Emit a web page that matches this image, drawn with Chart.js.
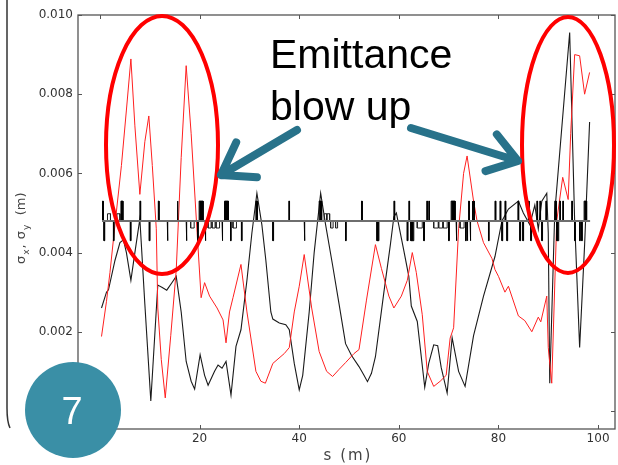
<!DOCTYPE html>
<html>
<head>
<meta charset="utf-8">
<script src="https://cdn.jsdelivr.net/npm/chart.js@4.4.1/dist/chart.umd.min.js"></script>
<style>
    body { margin: 0; background: #ffffff; }
    #wrap { width: 618px; height: 465px; }
</style>
</head>
<body>
<div id="wrap"><canvas id="beamChart" width="618" height="465"></canvas></div>
<script>
// beam size along the line, black trace
const sxS   = [0.3, 1.3, 1.7, 3.0, 4.0, 4.7, 5.3, 6.2, 7.0, 8.0, 9.0, 10.2, 11.6, 12.5, 13.4, 14.5, 15.3, 16.3, 17.3, 18.3, 19.0, 20.1, 21.0, 21.7, 23.0, 23.7, 24.5, 25.3, 26.3, 27.3, 28.3, 29.5, 30.5, 31.5, 32.5, 33.3, 34.3, 34.7, 36.0, 37.3, 38.0, 39.0, 40.0, 40.7, 42.0, 43.0, 44.3, 45.3, 46.7, 48.0, 49.3, 50.5, 52.0, 53.0, 53.7, 54.5, 55.3, 57.0, 58.3, 59.0, 59.5, 61.0, 62.0, 62.5, 63.7, 65.2, 66.0, 67.0, 67.8, 68.5, 69.7, 70.7, 72.0, 73.3, 75.0, 77.0, 79.3, 80.7, 82.0, 84.0, 85.0, 86.3, 87.3, 88.0, 88.7, 89.7, 90.0, 90.3, 91.3, 94.3, 95.3, 96.3, 97.3, 98.3]
const sxVal = [0.00260, 0.00300, 0.00306, 0.00380, 0.00425, 0.00432, 0.00400, 0.00330, 0.00400, 0.00485, 0.00270, 0.00025, 0.00318, 0.00312, 0.00305, 0.00325, 0.00340, 0.00250, 0.00125, 0.00075, 0.00055, 0.00142, 0.00090, 0.00065, 0.00100, 0.00116, 0.00108, 0.00125, 0.00040, 0.00163, 0.00205, 0.00330, 0.00450, 0.00550, 0.00470, 0.00380, 0.00250, 0.00232, 0.00222, 0.00218, 0.00205, 0.00120, 0.00053, 0.00090, 0.00250, 0.00400, 0.00550, 0.00470, 0.00368, 0.00270, 0.00170, 0.00140, 0.00112, 0.00090, 0.00074, 0.00095, 0.00137, 0.00300, 0.00420, 0.00490, 0.00500, 0.00405, 0.00340, 0.00265, 0.00226, 0.00060, 0.00120, 0.00167, 0.00165, 0.00110, 0.00045, 0.00185, 0.00100, 0.00062, 0.00190, 0.00290, 0.00390, 0.00480, 0.00510, 0.00530, 0.00500, 0.00470, 0.00520, 0.00460, 0.00530, 0.00550, 0.00450, 0.00070, 0.00500, 0.00956, 0.00480, 0.00160, 0.00420, 0.00730]

// red trace
const syS   = [0.3, 1.3, 2.0, 3.0, 4.3, 5.3, 6.2, 7.0, 8.0, 9.0, 9.8, 10.5, 11.3, 11.6, 12.3, 13.1, 14.2, 15.3, 16.3, 17.3, 18.3, 19.5, 20.3, 21.0, 22.0, 23.5, 24.7, 25.3, 26.0, 26.7, 28.3, 29.5, 31.3, 32.3, 33.2, 34.7, 37.0, 38.0, 39.0, 40.0, 41.0, 42.5, 44.0, 45.5, 46.7, 48.0, 49.3, 51.0, 52.0, 53.5, 55.3, 56.5, 58.0, 59.0, 60.5, 61.7, 62.7, 63.5, 64.7, 65.7, 67.0, 68.3, 69.5, 70.3, 71.0, 72.0, 73.0, 73.7, 75.0, 75.7, 77.0, 78.7, 79.3, 80.0, 81.3, 82.0, 84.0, 85.3, 86.7, 88.0, 88.5, 89.7, 90.0, 90.7, 91.7, 92.9, 94.0, 94.5, 95.3, 96.3, 97.3, 98.3]
const syVal = [0.00188, 0.00277, 0.00350, 0.00470, 0.00620, 0.00760, 0.00889, 0.00720, 0.00547, 0.00680, 0.00745, 0.00620, 0.00460, 0.00260, 0.00130, 0.00033, 0.00190, 0.00355, 0.00640, 0.00872, 0.00700, 0.00450, 0.00286, 0.00324, 0.00290, 0.00260, 0.00230, 0.00172, 0.00250, 0.00286, 0.00370, 0.00250, 0.00100, 0.00075, 0.00070, 0.00120, 0.00145, 0.00160, 0.00250, 0.00315, 0.00395, 0.00260, 0.00150, 0.00100, 0.00087, 0.00105, 0.00122, 0.00145, 0.00155, 0.00280, 0.00420, 0.00360, 0.00290, 0.00260, 0.00290, 0.00330, 0.00400, 0.00350, 0.00243, 0.00100, 0.00062, 0.00075, 0.00090, 0.00184, 0.00210, 0.00460, 0.00600, 0.00644, 0.00530, 0.00480, 0.00425, 0.00385, 0.00357, 0.00340, 0.00300, 0.00315, 0.00240, 0.00228, 0.00200, 0.00237, 0.00225, 0.00290, 0.00160, 0.00070, 0.00480, 0.00590, 0.00534, 0.00700, 0.00900, 0.00897, 0.00800, 0.00855]

// lattice: quadrupoles (start, length, +1 focusing / -1 defocusing)
const quadS = [0.5, 0.8, 2.7, 4.2, 6.1, 8.0, 9.9, 11.7, 13.5, 15.5, 17.3, 19.6, 19.9, 21.1, 24.5, 25.0, 26.2, 28.4, 31.3, 34.7, 37.9, 41.0, 44.0, 49.3, 52.5, 55.6, 59.0, 61.7, 62.0, 62.4, 65.0, 65.6, 66.0, 70.0, 70.5, 71.5, 73.4, 73.7, 74.0, 74.3, 74.7, 75.0, 78.0, 79.3, 80.3, 80.7, 81.3, 81.7, 83.9, 84.3, 84.9, 86.0, 86.5, 87.7, 88.3, 88.7, 89.5, 91.3, 91.7, 92.3, 92.9, 94.7, 95.3, 96.3, 96.7, 97.2]
const quadL = [0.15, 0.15, 0.15, 0.4, 0.15, 0.15, 0.15, 0.15, 0.15, 0.15, 0.15, 0.15, 0.8, 0.15, 0.15, 0.8, 0.15, 0.15, 0.3, 0.15, 0.15, 0.15, 0.5, 0.15, 0.15, 0.4, 0.15, 0.15, 0.15, 0.6, 0.15, 0.15, 0.15, 0.15, 0.8, 0.15, 0.15, 0.15, 0.15, 0.15, 0.15, 0.15, 0.15, 0.15, 0.15, 0.15, 0.15, 0.15, 0.15, 0.15, 0.15, 0.15, 0.15, 0.15, 0.15, 0.15, 0.15, 0.3, 0.4, 0.15, 0.15, 0.15, 0.15, 0.15, 0.15, 0.5]
const quadK = [1, -1, -1, 1, -1, 1, -1, 1, -1, 1, -1, -1, 1, -1, -1, 1, -1, -1, 1, -1, 1, -1, 1, -1, 1, -1, 1, -1, 1, -1, -1, 1, 1, -1, 1, -1, -1, -1, 1, -1, 1, 1, -1, 1, 1, -1, 1, -1, 1, -1, -1, 1, -1, 1, 1, -1, 1, 1, -1, 1, 1, 1, -1, -1, -1, 1]

// lattice: bends and correctors (start, length, side)
const bendS = [1.5, 3.4, 18.2, 21.7, 22.5, 23.3, 26.7, 45.0, 45.6, 46.3, 47.3, 63.7, 67.0, 68.0, 68.9, 72.3]
const bendL = [0.6, 0.6, 0.7, 0.6, 0.6, 0.7, 0.7, 0.5, 0.5, 0.5, 0.4, 1.0, 0.9, 0.8, 0.8, 0.8]
const bendK = [1, 1, -1, -1, -1, -1, -1, 1, 1, -1, -1, -1, -1, -1, -1, -1]

const latticeLevel = 0.0048
const quadHeight = 0.0005
const bendHeight = 0.00018
const latticeStart = 0.4
const latticeEnd = 98.4

const xTicks = [0, 20, 40, 60, 80, 100]
const yTicks = [0, 0.002, 0.004, 0.006, 0.008, 0.010]

function toPoints(xs, ys) {
    return xs.map((s, i) => ({x: s, y: ys[i]}))
}

// each element becomes a little box sitting on the lattice line, separated by gaps
function magnetPoints(starts, lengths, sides, height) {
    let pts = []
    for (let i = 0; i < starts.length; i++) {
        let s0 = starts[i]
        let s1 = starts[i] + lengths[i]
        let yTop = latticeLevel + sides[i] * height
        pts.push({x: s0, y: latticeLevel}, {x: s0, y: yTop}, {x: s1, y: yTop}, {x: s1, y: latticeLevel}, {x: s1, y: null})
    }
    return pts
}

function drawArrow(ctx, x0, y0, x1, y1, headLen) {
    let ang = Math.atan2(y1 - y0, x1 - x0)
    ctx.beginPath()
    ctx.moveTo(x0, y0)
    ctx.lineTo(x1, y1)
    ctx.moveTo(x1 - headLen * Math.cos(ang - 0.6), y1 - headLen * Math.sin(ang - 0.6))
    ctx.lineTo(x1, y1)
    ctx.lineTo(x1 - headLen * Math.cos(ang + 0.6), y1 - headLen * Math.sin(ang + 0.6))
    ctx.stroke()
}

const framePlugin = {
    id: 'frame',
    afterDraw(chart) {
        const ctx = chart.ctx
        const a = chart.chartArea
        const xs = chart.scales.x
        const ys = chart.scales.y
        ctx.save()

        // box and inward ticks on all four sides
        ctx.strokeStyle = '#555555'
        ctx.lineWidth = 1.3
        ctx.strokeRect(a.left, a.top, a.right - a.left, a.bottom - a.top)
        ctx.lineWidth = 1
        ctx.beginPath()
        xTicks.forEach(v => {
            let px = Math.round(xs.getPixelForValue(v)) + 0.5
            ctx.moveTo(px, a.bottom); ctx.lineTo(px, a.bottom - 4)
            ctx.moveTo(px, a.top); ctx.lineTo(px, a.top + 4)
        })
        yTicks.forEach(v => {
            let py = Math.round(ys.getPixelForValue(v)) + 0.5
            ctx.moveTo(a.left, py); ctx.lineTo(a.left + 4, py)
            ctx.moveTo(a.right, py); ctx.lineTo(a.right - 4, py)
        })
        ctx.stroke()

        // bracket down the left side
        ctx.strokeStyle = '#333333'
        ctx.lineWidth = 1.5
        ctx.beginPath()
        ctx.moveTo(7, 0)
        ctx.lineTo(7, 408)
        ctx.quadraticCurveTo(7, 422, 10, 428)
        ctx.stroke()

        // axis titles
        ctx.fillStyle = '#444444'
        ctx.textBaseline = 'alphabetic'
        ctx.font = '15px "DejaVu Sans"'
        ctx.letterSpacing = '2px'
        ctx.textAlign = 'center'
        ctx.fillText('s (m)', 348, 460)
        ctx.letterSpacing = '0px'

        ctx.translate(25, 264)
        ctx.rotate(-Math.PI / 2)
        ctx.textAlign = 'left'
        let parts = [['σ', 13, 0], ['x', 9, 4], [', ', 13, 0], ['σ', 13, 0], ['y', 9, 4], ['  (m)', 13, 0]]
        let cx = 0
        parts.forEach(p => {
            ctx.font = p[1] + 'px "DejaVu Sans"'
            ctx.fillText(p[0], cx, p[2])
            cx += ctx.measureText(p[0]).width + 1
        })
        ctx.restore()
    }
}

const notePlugin = {
    id: 'notes',
    afterDraw(chart) {
        const ctx = chart.ctx
        ctx.save()

        // red rings round the blow-up regions
        ctx.strokeStyle = '#ff0000'
        ctx.lineWidth = 4
        ctx.beginPath()
        ctx.ellipse(162, 145, 56, 129, 0, 0, Math.PI * 2)
        ctx.stroke()
        ctx.beginPath()
        ctx.ellipse(568, 145, 46, 128, 0, 0, Math.PI * 2)
        ctx.stroke()

        // teal arrows
        ctx.strokeStyle = '#28728a'
        ctx.lineWidth = 8
        ctx.lineCap = 'round'
        ctx.lineJoin = 'round'
        drawArrow(ctx, 297, 130, 221, 175, 36)
        drawArrow(ctx, 411, 128, 518, 161, 34)

        ctx.fillStyle = '#000000'
        ctx.font = '41px "Liberation Sans"'
        ctx.textAlign = 'left'
        ctx.fillText('Emittance', 270, 68)
        ctx.fillText('blow up', 270, 120)

        // slide number badge
        ctx.fillStyle = '#3a8fa6'
        ctx.beginPath()
        ctx.arc(73, 410, 48, 0, Math.PI * 2)
        ctx.fill()
        ctx.fillStyle = '#ffffff'
        ctx.font = '38px "Liberation Sans"'
        ctx.textAlign = 'center'
        ctx.fillText('7', 72, 424)
        ctx.restore()
    }
}

window.onload = (event) => {
    const ctx = document.getElementById('beamChart')
    new Chart(ctx, {
        type: 'line',
        data: {
            datasets: [
                {label: 'lattice', data: [{x: latticeStart, y: latticeLevel}, {x: latticeEnd, y: latticeLevel}],
                 borderColor: '#6e6e6e', borderWidth: 2, pointRadius: 0},
                {label: 'quads', data: magnetPoints(quadS, quadL, quadK, quadHeight),
                 borderColor: '#000000', backgroundColor: '#000000', borderWidth: 1, pointRadius: 0,
                 spanGaps: false, fill: {value: latticeLevel}},
                {label: 'bends', data: magnetPoints(bendS, bendL, bendK, bendHeight),
                 borderColor: '#222222', borderWidth: 1, pointRadius: 0, spanGaps: false},
                {label: 'σy', data: toPoints(syS, syVal), borderColor: '#ff2020', borderWidth: 1, pointRadius: 0},
                {label: 'σx', data: toPoints(sxS, sxVal), borderColor: '#1a1a1a', borderWidth: 1.1, pointRadius: 0}
            ]
        },
        options: {
            responsive: false,
            animation: false,
            layout: {padding: {left: 0, top: 15, right: 3, bottom: 0}},
            plugins: {legend: {display: false}, tooltip: {enabled: false}},
            elements: {line: {tension: 0}},
            scales: {
                x: {
                    type: 'linear', min: -4.42, max: 103.4,
                    grid: {display: false, drawTicks: false},
                    border: {display: false},
                    afterFit: (scale) => { scale.height = 36 },
                    afterBuildTicks: (scale) => { scale.ticks = xTicks.map(v => ({value: v})) },
                    ticks: {color: '#333333', padding: 3, maxRotation: 0, font: {family: 'DejaVu Sans', size: 12}}
                },
                y: {
                    type: 'linear', min: -0.000456, max: 0.010,
                    grid: {display: false, drawTicks: false},
                    border: {display: false},
                    afterFit: (scale) => { scale.width = 78 },
                    afterBuildTicks: (scale) => { scale.ticks = yTicks.map(v => ({value: v})) },
                    ticks: {color: '#333333', padding: 5, font: {family: 'DejaVu Sans', size: 12},
                            callback: (v) => v.toFixed(3)}
                }
            }
        },
        plugins: [framePlugin, notePlugin]
    })
}
</script>
</body>
</html>
